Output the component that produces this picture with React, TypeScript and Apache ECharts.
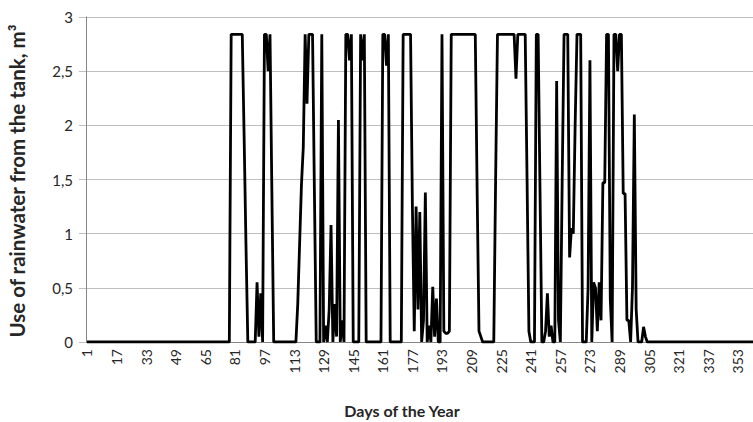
import { useEffect, useRef } from "react";
import * as echarts from "echarts";

// Day-of-year categories (1..365), labelled every 16th day
const days: string[] = Array.from({ length: 365 }, (_, i) => String(i + 1));

// Daily use of rainwater from the tank, m³ (day 1 .. day 365)
const usage: number[] = [
  0, 0, 0, 0, 0, 0, 0, 0, 0, 0,
  0, 0, 0, 0, 0, 0, 0, 0, 0, 0,
  0, 0, 0, 0, 0, 0, 0, 0, 0, 0,
  0, 0, 0, 0, 0, 0, 0, 0, 0, 0,
  0, 0, 0, 0, 0, 0, 0, 0, 0, 0,
  0, 0, 0, 0, 0, 0, 0, 0, 0, 0,
  0, 0, 0, 0, 0, 0, 0, 0, 0, 0,
  0, 0, 0, 0, 0, 0, 0, 0, 2.84, 2.84,
  2.84, 2.84, 2.84, 2.84, 2.84, 1.9, 0.9, 0, 0, 0,
  0, 0, 0.55, 0.05, 0.45, 0, 2.84, 2.84, 2.5, 2.84,
  1.4, 0, 0, 0, 0, 0, 0, 0, 0, 0,
  0, 0, 0, 0, 0.35, 0.9, 1.45, 1.8, 2.84, 2.2,
  2.84, 2.84, 2.84, 1.4, 0, 0, 0, 2.84, 0, 0.15,
  0, 0.3, 1.08, 0, 0.35, 0.05, 2.05, 0, 0.2, 0,
  2.84, 2.84, 2.6, 2.84, 0, 0, 0, 0, 2.84, 2.6,
  2.84, 0, 0, 0, 0, 0, 0, 0, 0, 0,
  2.84, 2.84, 2.55, 2.84, 0, 0, 0, 0, 0, 0,
  0, 2.84, 2.84, 2.84, 2.84, 2.84, 1.25, 0.1, 1.25, 0.3,
  1.2, 0, 0.2, 1.38, 0, 0.15, 0, 0.51, 0.05, 0.4,
  0, 0, 2.84, 0.1, 0.08, 0.08, 0.1, 2.84, 2.84, 2.84,
  2.84, 2.84, 2.84, 2.84, 2.84, 2.84, 2.84, 2.84, 2.84, 2.84,
  2.84, 1.4, 0.1, 0.05, 0, 0, 0, 0, 0, 0,
  0, 1.5, 2.84, 2.84, 2.84, 2.84, 2.84, 2.84, 2.84, 2.84,
  2.84, 2.84, 2.43, 2.84, 2.84, 2.84, 2.84, 2.84, 1.5, 0.1,
  0, 0, 0, 2.84, 2.84, 1.4, 0, 0, 0.1, 0.45,
  0.05, 0.15, 0, 0, 2.41, 0.2, 0, 1.5, 2.84, 2.84,
  2.84, 0.78, 1.05, 1.0, 2.0, 2.84, 2.84, 2.84, 0, 0,
  0, 0.5, 2.6, 0, 0.55, 0.5, 0.1, 0.55, 0.2, 1.47,
  1.47, 2.84, 2.84, 0.4, 0, 2.84, 2.84, 2.5, 2.84, 2.84,
  1.37, 1.37, 0.2, 0.2, 0, 0.5, 2.1, 0.3, 0, 0,
  0, 0.14, 0.05, 0, 0, 0, 0, 0, 0, 0,
  0, 0, 0, 0, 0, 0, 0, 0, 0, 0,
  0, 0, 0, 0, 0, 0, 0, 0, 0, 0,
  0, 0, 0, 0, 0, 0, 0, 0, 0, 0,
  0, 0, 0, 0, 0, 0, 0, 0, 0, 0,
  0, 0, 0, 0, 0, 0, 0, 0, 0, 0,
  0, 0, 0, 0, 0,
];

const yMin = 0;
const yMax = 3;
const yStep = 0.5;

const xTitle = "Days of the Year";
const yTitle = "Use of rainwater from the tank, m³";

const FONT = "Lato, 'Open Sans', sans-serif";

export default function App() {
  const ref = useRef<HTMLDivElement>(null);

  useEffect(() => {
    document.body.style.margin = "0";
    if (!ref.current) return;
    const chart = echarts.init(ref.current, undefined, { renderer: "svg" });
    chart.setOption({
      animation: false,
      backgroundColor: "#ffffff",
      // the plot runs a little past the visible right edge
      grid: { left: 86, right: 0, top: 17, bottom: 80, containLabel: false },
      xAxis: {
        type: "category",
        data: days,
        boundaryGap: true,
        axisLine: { show: true, lineStyle: { color: "#868686", width: 1 } },
        axisTick: { show: false },
        splitLine: { show: false },
        axisLabel: {
          interval: 15,
          rotate: 90,
          margin: 7,
          color: "#262626",
          fontFamily: FONT,
          fontSize: 14,
        },
      },
      yAxis: {
        type: "value",
        min: yMin,
        max: yMax,
        interval: yStep,
        axisLine: { show: true, lineStyle: { color: "#868686", width: 1 } },
        axisTick: { show: true, length: 7, lineStyle: { color: "#bfbfbf" } },
        splitLine: { show: true, lineStyle: { color: "#bfbfbf", width: 1 } },
        axisLabel: {
          margin: 13,
          color: "#262626",
          fontFamily: FONT,
          fontSize: 15,
          formatter: (v: number) => String(v).replace(".", ","),
        },
      },
      graphic: [
        {
          type: "text",
          x: 402,
          y: 410,
          style: {
            text: xTitle,
            font: `bold 16px ${FONT}`,
            fill: "#262626",
            textAlign: "center",
            textVerticalAlign: "middle",
          },
        },
        {
          type: "text",
          x: 17,
          y: 181,
          rotation: Math.PI / 2,
          style: {
            text: yTitle,
            font: `bold 20.5px ${FONT}`,
            fill: "#262626",
            textAlign: "center",
            textVerticalAlign: "middle",
          },
        },
      ],
      series: [
        {
          type: "line",
          data: usage,
          showSymbol: false,
          symbol: "none",
          lineStyle: { color: "#000000", width: 2.8 },
          z: 3,
        },
      ],
    });
    return () => chart.dispose();
  }, []);

  return (
    <div style={{ width: 753, height: 422, overflow: "hidden", position: "relative" }}>
      <div ref={ref} style={{ width: 761, height: 422 }} />
    </div>
  );
}
